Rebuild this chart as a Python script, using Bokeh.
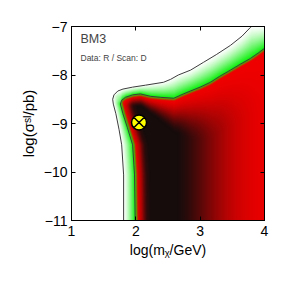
import numpy as np
from bokeh.plotting import figure
from bokeh.models import Label, FixedTicker, Range1d, LinearAxis
from bokeh.embed import file_html
from bokeh.resources import INLINE

# ---------------- data ----------------
# outer contour (bottom -> top-left corner -> right edge)
outer_x = [1.81, 1.81, 1.78, 1.74, 1.69, 1.65, 1.64, 1.66, 1.72, 1.80, 1.95, 2.15, 2.43, 2.54,
           2.66, 2.85, 3.05, 3.25, 3.47, 3.65, 3.78, 3.80]
outer_y = [-11.0, -10.06, -9.44, -9.13, -8.80, -8.60, -8.50, -8.41, -8.33, -8.29, -8.25, -8.21,
           -8.15, -8.09, -8.00, -7.90, -7.74, -7.58, -7.39, -7.20, -7.02, -7.00]
# inner contour
inner_x = [1.99, 1.98, 1.95, 1.87, 1.80, 1.76, 1.78, 1.84, 1.95, 2.07, 2.23, 2.38, 2.59, 2.74,
           2.85, 3.00, 3.16, 3.30, 3.47, 3.62, 3.78, 3.90, 4.00]
inner_y = [-11.0, -10.06, -9.44, -9.09, -8.80, -8.60, -8.52, -8.46, -8.41, -8.39, -8.44, -8.46,
           -8.48, -8.39, -8.33, -8.25, -8.15, -8.03, -7.90, -7.78, -7.66, -7.55, -7.45]
# darkness (likelihood) profile across log m, far from the top edge
dark_x = [2.0, 2.65, 2.8, 2.95, 3.1, 3.25, 3.4, 3.55, 3.7, 3.85, 4.0]
dark_v = [1.0, 1.0, 0.90, 0.75, 0.58, 0.42, 0.28, 0.17, 0.10, 0.05, 0.03]
# darkness rise inward from the inner contour's left edge
edge_dx = [0.0, 0.05, 0.10, 0.14, 0.18, 0.24]
edge_v = [0.0, 0.05, 0.30, 0.65, 0.90, 1.0]
# depth below the inner top edge over which darkness builds, by log m
depth_x = [1.8, 2.1, 2.3, 2.5, 2.85, 3.2, 4.0]
depth_s = [0.2, 0.25, 0.4, 0.6, 1.0, 1.2, 1.2]
# best fit point
bf_x = [2.05]
bf_y = [-8.98]
x_ticks = [1, 2, 3, 4]
y_ticks = [-11, -10, -9, -8, -7]

# ---------------- layout ----------------
FW, FH = 193, 194
XR, YR = (1.0, 4.0), (-11.0, -7.0)
SX = FW / (XR[1] - XR[0])
SY = FH / (YR[1] - YR[0])

p = figure(frame_width=FW, frame_height=FH, x_range=Range1d(*XR), y_range=Range1d(*YR),
           output_backend="svg", toolbar_location=None,
           min_border_left=71, min_border_right=19, min_border_top=26, min_border_bottom=62)
p.grid.visible = False
p.outline_line_color = "black"
p.outline_line_width = 1
p.background_fill_color = "white"
p.border_fill_color = "white"

# ---------------- field image ----------------
nx, ny = 386, 388
gx = XR[0] + (np.arange(nx) + 0.5) * (XR[1] - XR[0]) / nx
gy = YR[0] + (np.arange(ny) + 0.5) * (YR[1] - YR[0]) / ny
X, Y = np.meshgrid(gx, gy)


def split(xs, ys):
    k = int(np.argmin(xs))
    return (np.array(ys[:k + 1]), np.array(xs[:k + 1])), (np.array(xs[k:]), np.array(ys[k:]))


(oly, olx), (otx, oty) = split(outer_x, outer_y)
(ily, ilx), (itx, ity) = split(inner_x, inner_y)
OL = np.interp(Y, oly, olx)
OT = np.interp(X, otx, oty)
IL = np.interp(Y, ily, ilx)
IT = np.interp(X, itx, ity)

a_o = (X - OL) * SX
b_o = (OT - Y) * SY
ins_o = (a_o > 0) & (b_o > 0)
d_o = np.minimum(a_o, b_o)

a_i = (X - IL) * SX
b_i = (IT - Y) * SY
ins_i = (a_i > 0) & (b_i > 0)
d_i_in = np.minimum(a_i, b_i)
d_i_out = np.sqrt(np.maximum(-a_i, 0) ** 2 + np.maximum(-b_i, 0) ** 2)

white = np.array([255, 255, 255], float)
green = np.array([10, 240, 10], float)
red = np.array([240, 0, 0], float)
black = np.array([22, 12, 12], float)

img = np.zeros((ny, nx, 3)) + white

# band between contours: white -> green
band = ins_o & ~ins_i
t = np.clip(d_o / np.maximum(d_o + d_i_out, 1e-9), 0, 1) ** 1.3
img[band] = white * (1 - t[band, None]) + green * t[band, None]

# inside inner contour
m = np.clip(d_i_in / 3.0, 0, 1)
base = green * (1 - m[..., None]) + red * m[..., None]
PL = np.interp(X - IL, edge_dx, edge_v)
PR = np.interp(X, dark_x, dark_v)
S = np.interp(X, depth_x, depth_s)
g = np.clip((IT - Y - 0.03) / S, 0, 1)
G = g * g * (3 - 2 * g)
D = np.clip(PL * PR * G, 0, 1)
col = base * (1 - D[..., None]) + black * D[..., None]
img[ins_i] = col[ins_i]

rgba = np.zeros((ny, nx), dtype=np.uint32)
view = rgba.view(dtype=np.uint8).reshape((ny, nx, 4))
view[..., 0:3] = np.clip(img, 0, 255).astype(np.uint8)
view[..., 3] = 255
p.image_rgba(image=[rgba], x=XR[0], y=YR[0], dw=XR[1] - XR[0], dh=YR[1] - YR[0])

# contour lines
p.line(outer_x, outer_y, line_color="#3c3c3c", line_width=1)
p.line(inner_x, inner_y, line_color="#3c3c3c", line_width=1)

# best fit
p.scatter(bf_x, bf_y, marker="circle_x", size=15, fill_color="#ffff00",
          line_color="black", line_width=1.5)


# ---------------- axes ----------------
def minus(v):
    return ("\u2212" + str(abs(v))) if v < 0 else str(v)


FONT = "Liberation Sans"
for ax in (p.xaxis[0], p.yaxis[0]):
    ax.minor_tick_line_color = None
    ax.major_tick_in = 4
    ax.major_tick_out = 0
    ax.axis_line_color = "black"
    ax.major_tick_line_color = "black"
    ax.major_label_text_font = FONT
    ax.major_label_text_font_size = "14px"
    ax.major_label_text_color = "black"
    ax.axis_label_text_font = FONT
    ax.axis_label_text_font_style = "normal"
    ax.axis_label_text_color = "black"
p.xaxis[0].ticker = FixedTicker(ticks=x_ticks)
p.yaxis[0].ticker = FixedTicker(ticks=y_ticks)
p.xaxis[0].major_label_overrides = {v: minus(v) for v in x_ticks}
p.yaxis[0].major_label_overrides = {v: minus(v) for v in y_ticks}
p.xaxis[0].major_label_standoff = 5
p.yaxis[0].major_label_standoff = 4
p.xaxis[0].axis_label = "log(m\u1d6a/GeV)"
p.xaxis[0].axis_label_text_font_size = "14px"
p.xaxis[0].axis_label_standoff = 3
p.yaxis[0].axis_label = "log(\u03c3\u02e2\u1d35/pb)"
p.yaxis[0].axis_label_text_font_size = "15px"
p.yaxis[0].axis_label_standoff = 4

top = LinearAxis(ticker=FixedTicker(ticks=x_ticks), major_tick_in=4, major_tick_out=0,
                 minor_tick_line_color=None, major_label_standoff=0,
                 major_label_overrides={v: "" for v in x_ticks})
right = LinearAxis(ticker=FixedTicker(ticks=y_ticks), major_tick_in=4, major_tick_out=0,
                   minor_tick_line_color=None, major_label_standoff=0,
                   major_label_overrides={v: "" for v in y_ticks})
p.add_layout(top, "above")
p.add_layout(right, "right")


# helper: pixel offsets relative to the frame's top-left corner -> data units
def dx(px):
    return XR[0] + px / SX


def dy(py):
    return YR[1] - py / SY


# in-plot texts
p.add_layout(Label(x=dx(9), y=dy(5), text="BM3", text_align="left", text_baseline="top",
                   text_font=FONT, text_font_size="12.5px"))
p.add_layout(Label(x=dx(9), y=dy(26), text="Data: R / Scan: D", text_align="left",
                   text_baseline="top", text_font=FONT, text_font_size="8.5px"))

open("out.html", "w").write(file_html(p, INLINE))
